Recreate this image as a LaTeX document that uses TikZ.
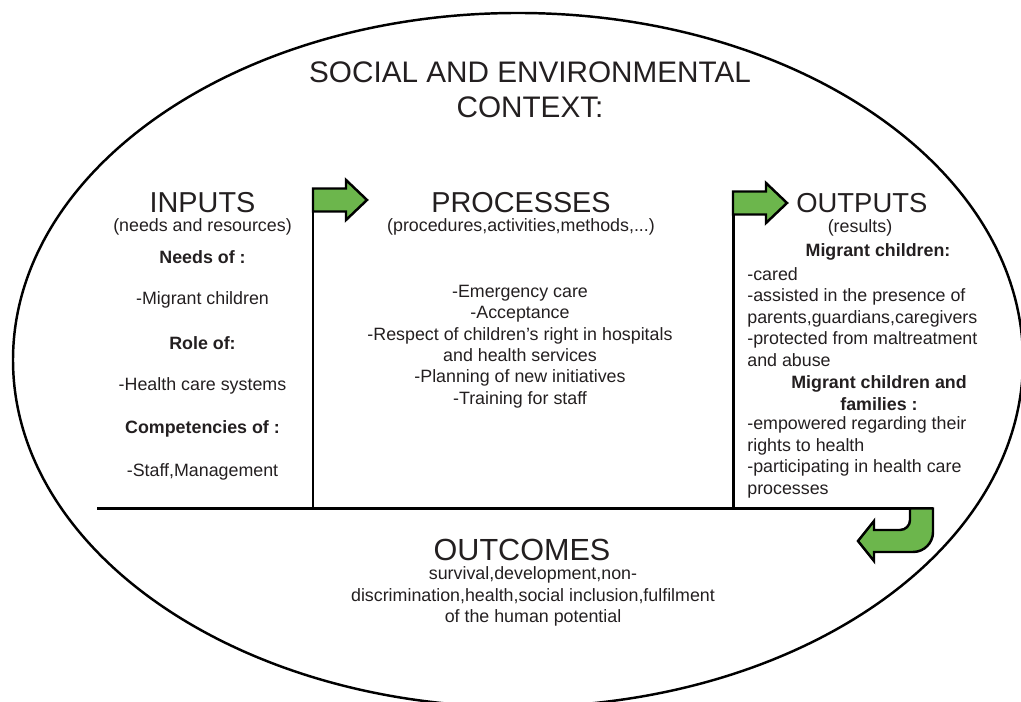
\documentclass[tikz,border=0pt]{standalone}
\usepackage{fontspec}
\setmainfont{Liberation Sans}
\usetikzlibrary{positioning}
\definecolor{pijlgroen}{RGB}{108,182,76}
\definecolor{inkt}{RGB}{35,31,32}

\begin{document}
\begin{tikzpicture}
\tikzstyle{tekst} = [text=inkt, font=\fontsize{10.15}{12.2}\selectfont, inner sep=0pt, align=center]
\tikzstyle{vet} = [tekst, font=\fontsize{10.15}{12.2}\selectfont\bfseries]
\tikzstyle{kop} = [text=inkt, font=\fontsize{16.4}{19.8}\selectfont, inner sep=0pt, align=center]
\tikzstyle{pijl} = [draw=black, fill=pijlgroen, line width=1.4pt, line join=miter]
\tikzstyle{lijn} = [draw=black, line width=1.7pt]

\useasboundingbox (0,0) rectangle (20.42,14.04);

% context
\draw [line width=1.4pt] (10.36,6.84) ellipse [x radius=10.10, y radius=6.94];
\node [kop, font=\fontsize{16.9}{19.8}\selectfont] (context) at (10.6,12.25) {SOCIAL AND ENVIRONMENTAL\\CONTEXT:};

% inputs
\node [kop] (inputs) at (4.05,9.98) {INPUTS};
\node [tekst] (inputsub) [below of=inputs, node distance=4.8mm] {(needs and resources)};
\node [vet] (needs) [below of=inputsub, node distance=6mm] {Needs of :};
\node [tekst] (migrant) [below of=needs, node distance=8.6mm] {-Migrant children};
\node [vet] (role) [below of=migrant, node distance=8.6mm] {Role of:};
\node [tekst] (health) [below of=role, node distance=8.6mm] {-Health care systems};
\node [vet] (comp) [below of=health, node distance=8.6mm] {Competencies of :};
\node [tekst] (staff) [below of=comp, node distance=8.6mm] {-Staff,Management};

% processes
\node [kop] (processes) at (10.42,9.98) {PROCESSES};
\node [tekst] (procsub) [below of=processes, node distance=4.8mm] {(procedures,activities,methods,...)};
\node [tekst] (proclist) at (10.4,7.11) {-Emergency care\\-Acceptance\\-Respect of children’s right in hospitals\\and health services\\-Planning of new initiatives\\-Training for staff};

% outputs
\node [kop, anchor=west, font=\fontsize{15.6}{19.8}\selectfont] (outputs) at (15.92,9.98) {OUTPUTS};
\node [tekst] (outsub) at (17.2,9.48) {(results)};
\node [vet] (migrchild) at (17.56,9.0) {Migrant children:};
\node [tekst, align=left, anchor=west] (migrlist) at (14.94,7.70) {-cared\\-assisted in the presence of\\parents,guardians,caregivers\\-protected from maltreatment\\and abuse};
\node [vet] (migrfam) at (17.58,6.18) {Migrant children and\\families :};
\node [tekst, align=left, anchor=west] (famlist) at (14.94,4.89) {-empowered regarding their\\rights to health\\-participating in health care\\processes};

% outcomes
\node [kop, font=\fontsize{17.4}{19.8}\selectfont] (outcomes) at (10.44,3.04) {OUTCOMES};
\node [tekst] (outcomelist) at (10.66,2.11) {survival,development,non-\\discrimination,health,social inclusion,fulfilment\\of the human potential};

% base line with the two uprights
\coordinate (pijlin) at (6.26,10.04);
\coordinate (pijluit) at (14.66,9.98);
\coordinate (basisl) at (1.94,3.87);
\coordinate (basisr) at (18.66,3.87);
\draw [lijn] (pijlin) -- (pijlin |- basisl);
\draw [lijn] (pijluit) -- (pijluit |- basisl);
\draw [lijn] (basisl) -- (basisr);

% green arrows
\draw [pijl] (pijlin) ++(0,0.23) -- ++(0.66,0) -- ++(0,0.17) -- ++(0.42,-0.40)
  -- ++(-0.42,-0.40) -- ++(0,0.17) -- ++(-0.66,0) -- cycle;
\draw [pijl] (pijluit) ++(0,0.23) -- ++(0.66,0) -- ++(0,0.17) -- ++(0.42,-0.40)
  -- ++(-0.42,-0.40) -- ++(0,0.17) -- ++(-0.66,0) -- cycle;
\draw [pijl] (basisr) -- (18.66,3.40)
  arc [start angle=0, end angle=-90, radius=0.4] -- (17.48,3.00) -- (17.48,2.82)
  -- (17.16,3.22) -- (17.48,3.62) -- (17.48,3.44) -- (18.00,3.44)
  arc [start angle=-90, end angle=0, radius=0.2] -- (18.20,3.87) -- cycle;

\end{tikzpicture}
\end{document}
